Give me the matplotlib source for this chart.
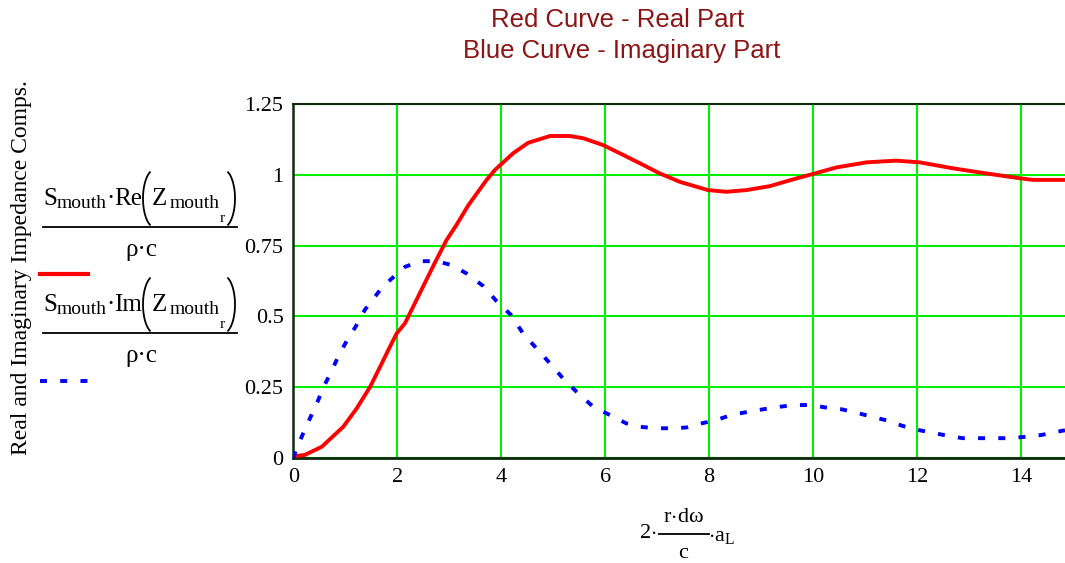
import matplotlib
matplotlib.use("Agg")
import numpy as np
import matplotlib.pyplot as plt
from matplotlib.lines import Line2D

plt.rcParams['mathtext.fontset'] = 'custom'
plt.rcParams['mathtext.rm'] = 'Liberation Serif'
plt.rcParams['mathtext.it'] = 'Liberation Serif'
plt.rcParams['mathtext.default'] = 'rm'

# ---- data ----
x_re = [0, 0.065, 0.225, 0.55, 0.96, 1.22, 1.48, 1.67, 1.86, 1.99, 2.15, 2.37, 2.72,
        2.95, 3.14, 3.37, 3.72, 3.88, 4.23, 4.52, 4.94, 5.32, 5.58, 5.96, 6.35, 6.73,
        7.05, 7.44, 7.98, 8.33, 8.72, 9.17, 9.62, 10.0, 10.45, 11.03, 11.6, 12.05,
        12.69, 13.33, 13.97, 14.23, 14.85]
y_re = [0.005, 0.007, 0.011, 0.04, 0.11, 0.175, 0.252, 0.322, 0.393, 0.44, 0.476,
        0.558, 0.688, 0.77, 0.823, 0.893, 0.982, 1.017, 1.076, 1.113, 1.137, 1.137,
        1.129, 1.105, 1.07, 1.035, 1.005, 0.975, 0.946, 0.94, 0.946, 0.96, 0.984,
        1.003, 1.026, 1.044, 1.05, 1.044, 1.023, 1.005, 0.988, 0.982, 0.982]

x_im = [0.0, 0.065, 0.19, 0.33, 0.47, 0.58, 0.74, 0.87, 1.03, 1.21, 1.38, 1.67, 1.86,
        2.15, 2.44, 2.76, 3.05, 3.33, 3.65, 3.91, 4.19, 4.42, 4.68, 4.94, 5.19, 5.45,
        5.77, 6.09, 6.41, 6.67, 6.99, 7.37, 7.57, 7.85, 8.14, 8.43, 8.75, 9.04, 9.36,
        9.65, 9.97, 10.22, 10.55, 10.84, 11.12, 11.44, 11.73, 12.02, 12.31, 12.6,
        12.88, 13.21, 13.49, 13.78, 14.1, 14.39, 14.71, 14.85]
y_im = [0.0, 0.034, 0.087, 0.144, 0.2, 0.25, 0.308, 0.361, 0.414, 0.467, 0.524, 0.593,
        0.628, 0.675, 0.695, 0.695, 0.681, 0.652, 0.608, 0.554, 0.505, 0.44, 0.387,
        0.334, 0.281, 0.234, 0.181, 0.152, 0.122, 0.11, 0.105, 0.105, 0.108, 0.122,
        0.134, 0.152, 0.163, 0.172, 0.181, 0.187, 0.187, 0.179, 0.172, 0.16, 0.146,
        0.132, 0.113, 0.099, 0.089, 0.078, 0.07, 0.07, 0.07, 0.07, 0.075, 0.081,
        0.093, 0.098]

x_ticks = [0, 2, 4, 6, 8, 10, 12, 14]
y_ticks = [0, 0.25, 0.5, 0.75, 1.0, 1.25]
y_tick_labels = ['0', '0.25', '0.5', '0.75', '1', '1.25']

W, H = 1065, 563
fig = plt.figure(figsize=(W / 100, H / 100), dpi=100)
ax = fig.add_axes([293.3 / W, (H - 458) / H, (W - 293.3) / W, 354 / H])

ax.plot(x_re, y_re, color='#FF0000', lw=2.8, solid_capstyle='butt', zorder=3)
ax.plot(x_im, y_im, color='#0000FF', lw=2.8, linestyle=(0, (1.8, 3.4)),
        dash_capstyle='butt', zorder=3)

ax.set_xlim(0, 14.85)
ax.set_ylim(0, 1.25)
ax.set_xticks(x_ticks)
ax.set_yticks(y_ticks)
ax.set_xticklabels([str(t) for t in x_ticks])
ax.set_yticklabels(y_tick_labels)
ax.grid(True, color='#00EE00', lw=1.5)
ax.set_axisbelow(True)
ax.tick_params(length=0, labelsize=16, pad=7)
for lab in ax.get_xticklabels() + ax.get_yticklabels():
    lab.set_family('Liberation Serif')
for s in ['left', 'bottom', 'top']:
    ax.spines[s].set_color('#0f2a0f')
ax.spines['left'].set_linewidth(1.8)
ax.spines['bottom'].set_linewidth(2.0)
ax.spines['top'].set_linewidth(1.5)
ax.spines['right'].set_visible(False)


def fx(px):
    return px / W


def fy(py):
    return 1 - py / H


serif = 'Liberation Serif'

title_color = '#8C1414'
fig.text(fx(618), fy(20), 'Red Curve - Real Part', ha='center', va='center',
         fontsize=18.5, color=title_color, family='Liberation Sans')
fig.text(fx(622), fy(51), 'Blue Curve - Imaginary Part', ha='center', va='center',
         fontsize=18.5, color=title_color, family='Liberation Sans')

# y axis label
fig.text(fx(22), fy(268), 'Real and Imaginary Impedance Comps.', rotation=90,
         ha='center', va='center', fontsize=17, family=serif)


def paren(cx, cy, a, b, t1, t2):
    t = np.radians(np.linspace(t1, t2, 40))
    xs = [fx(cx + a * np.cos(v)) for v in t]
    ys = [fy(cy - b * np.sin(v)) for v in t]
    fig.add_artist(Line2D(xs, ys, color='black', lw=1.3, transform=fig.transFigure))


def legend_expr(op, dy):
    """Mathcad-style expression S_mouth·op(Z_mouth_r) / (rho·c), shifted by dy px."""
    main, sub, subsub = 18, 14, 11
    base = 205 + dy
    pieces = [('S', 43, base, main), ('mouth', 57, base + 3, sub),
              ('\u00b7', 106, base, main), (op, 114, base, main),
              ('Z', 152, base, main), ('mouth', 170, base + 3, sub),
              ('r', 220, base + 17, subsub)]
    for s, x, y, size in pieces:
        fig.text(fx(x), fy(y), s, ha='left', va='baseline', fontsize=size,
                 family=serif)
    cy = 198.5 + dy
    paren(155, cy, 12, 29, 115, 245)
    paren(223, cy, 12, 29, -65, 65)
    fig.add_artist(Line2D([fx(43), fx(237)], [fy(227 + dy)] * 2, color='black',
                          lw=1.3, transform=fig.transFigure))
    fig.text(fx(141), fy(250 + dy), '\u03c1\u00b7c', ha='center', va='center',
             fontsize=18, family=serif)


legend_expr('Re', 0)
fig.add_artist(Line2D([fx(40), fx(88)], [fy(274)] * 2, color='#FF0000', lw=3,
                      transform=fig.transFigure))
legend_expr('Im', 106)
fig.add_artist(Line2D([fx(40), fx(88)], [fy(381)] * 2, color='#0000FF', lw=2.8,
                      linestyle=(0, (1.8, 3.4)), dash_capstyle='butt',
                      transform=fig.transFigure))

# x axis label (fraction)
fs2 = 16
fig.text(fx(648), fy(534), r'$2\!\cdot$', ha='center', va='center', fontsize=fs2,
         family=serif)
fig.text(fx(684), fy(517), r'$r\!\cdot\! d\omega$', ha='center', va='center',
         fontsize=fs2, family=serif)
fig.add_artist(Line2D([fx(659), fx(709)], [fy(534)] * 2, color='black', lw=1.3,
                      transform=fig.transFigure))
fig.text(fx(684), fy(553), r'$c$', ha='center', va='center', fontsize=fs2, family=serif)
fig.text(fx(708), fy(537), r'$\cdot a_{L}$', ha='left', va='center', fontsize=fs2,
         family=serif)

fig.savefig('out.png', dpi=100)
